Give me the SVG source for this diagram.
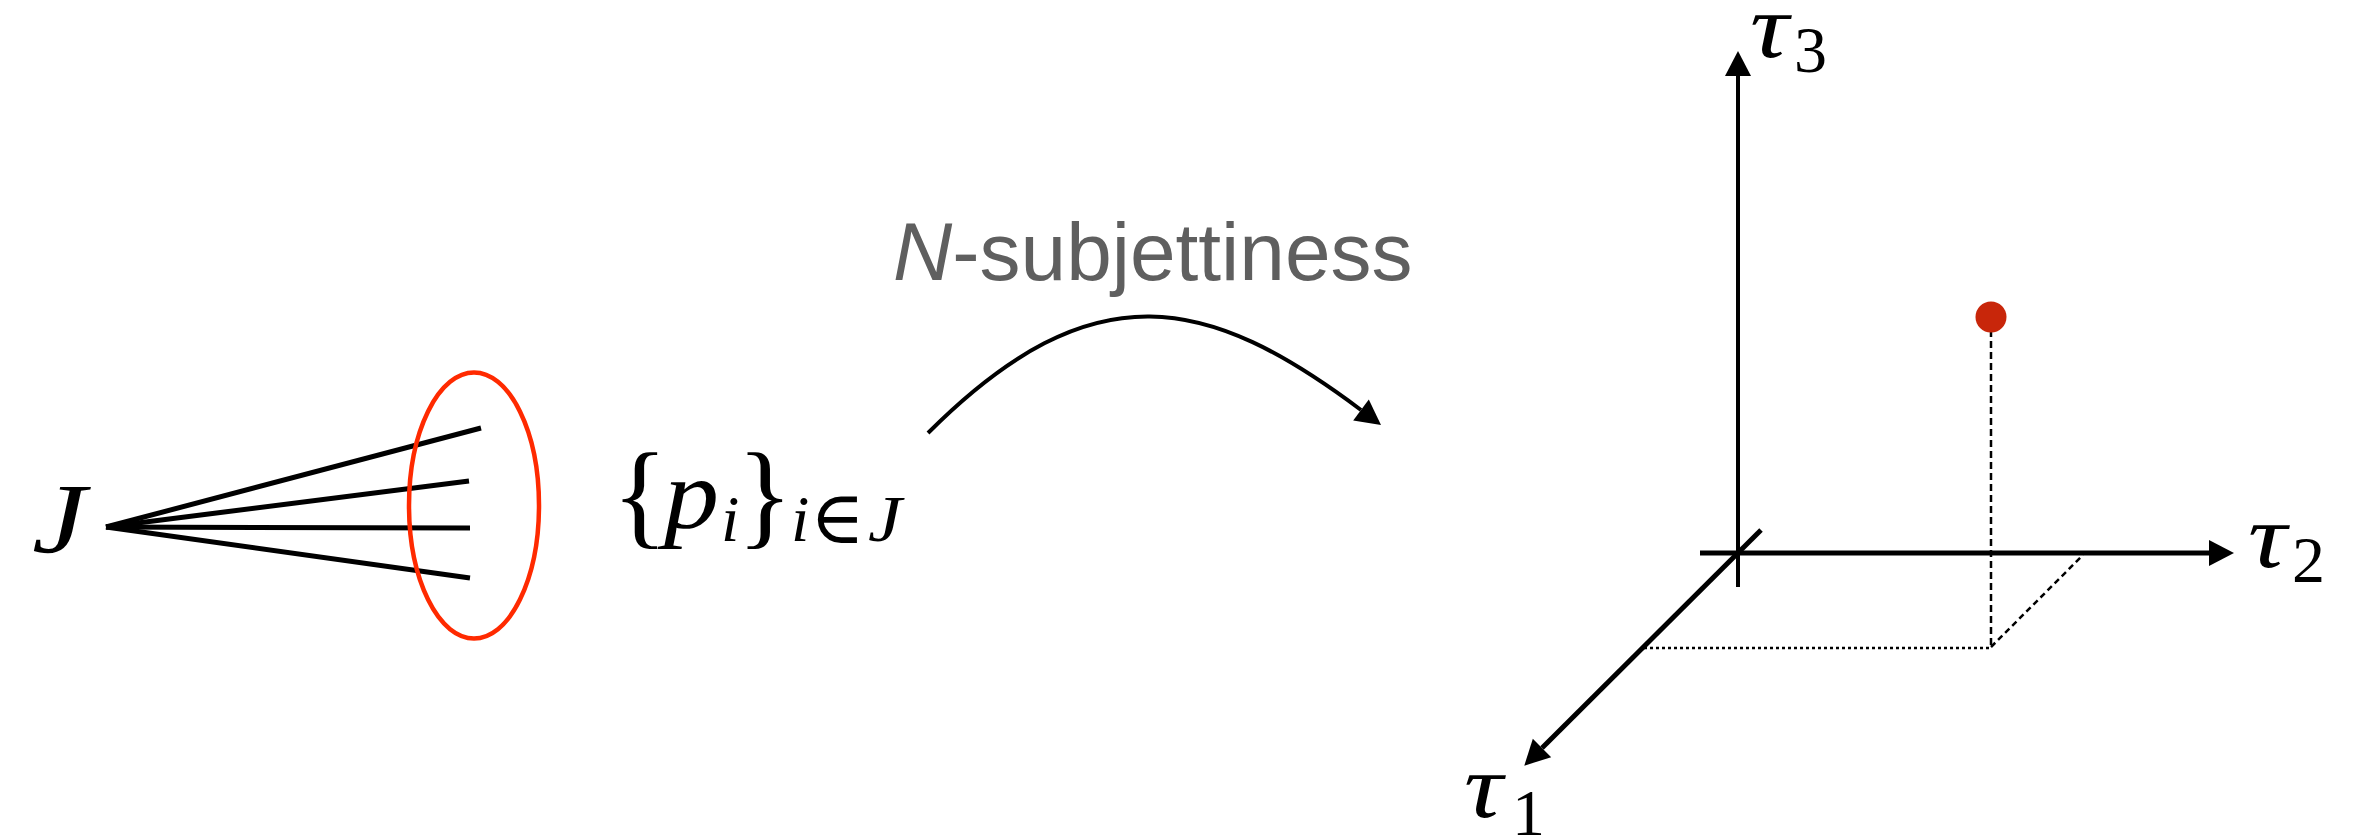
<svg xmlns="http://www.w3.org/2000/svg" width="2372" height="840" viewBox="0 0 2372 840">
<style>
.math{font-family:"Liberation Serif","DejaVu Serif",serif;fill:#000}
.it{font-style:italic}
.axis{stroke:#000;fill:none}
.dash{stroke:#000;stroke-width:2.5;fill:none}
.jetline{stroke:#000;stroke-width:5;fill:none}
</style>
<defs>
<marker id="arr" markerUnits="userSpaceOnUse" markerWidth="26" markerHeight="26" refX="0" refY="13" orient="auto" overflow="visible">
<path d="M0,0 L25,13 L0,26 Z" fill="#000"/>
</marker>
</defs>
<rect width="2372" height="840" fill="#fff"/>

<g id="jet">
<text class="math it" font-size="100" transform="translate(32,552) scale(1.22 1)">J</text>
<line class="jetline" x1="106" y1="527" x2="481" y2="428"/>
<line class="jetline" x1="106" y1="527" x2="469" y2="481"/>
<line class="jetline" x1="106" y1="527" x2="470" y2="528"/>
<line class="jetline" x1="106" y1="527" x2="470" y2="578"/>
<ellipse cx="474" cy="505.5" rx="65" ry="133" fill="none" stroke="#ff2a00" stroke-width="4.5"/>
</g>

<g id="constituents">
<text class="math" font-size="116" x="612" y="533">{</text>
<text class="math it" font-size="100" transform="translate(664,528) scale(1.1 1)">p</text>
<text class="math it" font-size="66" x="721" y="541">i</text>
<text class="math" font-size="116" x="737" y="533">}</text>
<text class="math it" font-size="66" x="791" y="541">i</text>
<text class="math" font-size="74" x="810" y="543">∈</text>
<text class="math it" font-size="66" transform="translate(868,541) scale(1.15 1)">J</text>
</g>

<g id="transform-label">
<text x="893" y="280" font-family="'Liberation Sans',Arial,sans-serif" font-size="82" fill="#5f5f5f"><tspan font-style="italic">N</tspan>-subjettiness</text>
</g>

<g id="connectors">
<path class="axis" stroke-width="4" d="M928,433 C1094,267 1209,296 1361,410" marker-end="url(#arr)"/>
</g>

<g id="axes">
<line class="axis" stroke-width="4" x1="1738" y1="587" x2="1738" y2="76" marker-end="url(#arr)"/>
<line class="axis" stroke-width="5" x1="1700" y1="553" x2="2209" y2="553" marker-end="url(#arr)"/>
<line class="axis" stroke-width="5" x1="1761" y1="530" x2="1542" y2="748" marker-end="url(#arr)"/>
<text class="math it" font-size="90" transform="translate(1750,57) scale(1.2 1)">τ</text>
<text class="math" font-size="66" x="1794" y="72">3</text>
<text class="math it" font-size="90" transform="translate(2248,567) scale(1.2 1)">τ</text>
<text class="math" font-size="66" x="2292" y="582">2</text>
<text class="math it" font-size="90" transform="translate(1464,817) scale(1.2 1)">τ</text>
<text class="math" font-size="66" x="1512" y="835">1</text>
</g>

<g id="point">
<line class="dash" x1="1991" y1="330" x2="1991" y2="647" stroke-dasharray="7 4"/>
<line class="dash" x1="1644" y1="648" x2="1991" y2="648" stroke-dasharray="3 3"/>
<line class="dash" x1="1991" y1="647" x2="2083" y2="555" stroke-dasharray="6 4"/>
<circle cx="1991" cy="317" r="15.5" fill="#c8260a"/>
</g>
</svg>
